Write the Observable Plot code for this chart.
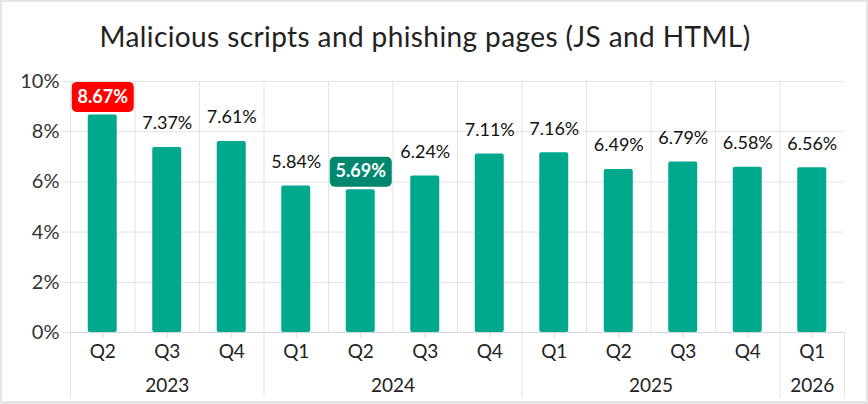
<!DOCTYPE html>
<html><head><meta charset="utf-8">
<script src="https://cdn.jsdelivr.net/npm/d3@7"></script>
<script src="https://cdn.jsdelivr.net/npm/@observablehq/plot@0.6"></script>
<style>
body{margin:0;background:#fff;}
#wrap{position:relative;width:868px;height:404px;overflow:hidden;font-family:Lato,sans-serif;background:#fff;}
#title{position:absolute;top:20px;left:0;width:850px;text-align:center;font-size:28px;letter-spacing:0.4px;line-height:32px;color:#222;}
#chart{position:absolute;left:0;top:0;}
#border{position:absolute;left:0;top:0;width:868px;height:404px;box-sizing:border-box;border:2px solid #e6e6e6;border-bottom-width:3px;pointer-events:none;}
</style></head>
<body>
<div id="wrap"><div id="chart"></div><div id="title">Malicious scripts and phishing pages (JS and HTML)</div><div id="border"></div></div>
<script>
const quarters = ["Q2","Q3","Q4","Q1","Q2","Q3","Q4","Q1","Q2","Q3","Q4","Q1"];
const years = ["2023","2023","2023","2024","2024","2024","2024","2025","2025","2025","2025","2026"];
const values = [8.67,7.37,7.61,5.84,5.69,6.24,7.11,7.16,6.49,6.79,6.58,6.56];
const yTicks = [0,2,4,6,8,10];

const data = values.map((v,i)=>({i, v, q: quarters[i], year: years[i], label: v.toFixed(2)+"%"}));
const maxV = d3.max(values), minV = d3.min(values);
const plain = data.filter(d=>d.v!==maxV && d.v!==minV);
const hl = data.filter(d=>d.v===maxV || d.v===minV).map(d=>({...d, color: d.v===maxV ? "#FF0000" : "#00886F"}));

const yearGroups = Array.from(d3.group(data, d=>d.year), ([year, ds])=>({year, c: d3.mean(ds, d=>d.i), first: d3.min(ds,d=>d.i), last: d3.max(ds,d=>d.i)}));
const yearBounds = [yearGroups[0].first-0.5, ...yearGroups.map(g=>g.last+0.5)];
const innerBounds = d3.range(0, values.length-1).map(i=>i+0.5);

const badge = {draw(ctx){ const w=31,h=15,r=5;
  ctx.moveTo(-w+r,-h); ctx.lineTo(w-r,-h); ctx.arcTo(w,-h,w,-h+r,r);
  ctx.lineTo(w,h-r); ctx.arcTo(w,h,w-r,h,r); ctx.lineTo(-w+r,h);
  ctx.arcTo(-w,h,-w,h-r,r); ctx.lineTo(-w,-h+r); ctx.arcTo(-w,-h,-w+r,-h,r); ctx.closePath(); }};

const grid = "#e3e3e3";
const chart = Plot.plot({
  width: 868, height: 404,
  marginLeft: 70, marginRight: 24, marginTop: 81, marginBottom: 72,
  style: {fontFamily: "Lato, sans-serif", background: "transparent", color: "#222"},
  x: {type: "linear", domain: [-0.5, values.length-0.5], axis: null},
  y: {domain: [0, 10], axis: null},
  marks: [
    Plot.gridY(yTicks.slice(1), {stroke: grid, strokeOpacity: 1}),
    Plot.ruleX([yearBounds[0], ...innerBounds], {stroke: grid, strokeOpacity: 1}),
    Plot.ruleX(yearBounds, {y1: 0, y2: 0, insetBottom: -66, stroke: grid, strokeOpacity: 1}),
    Plot.ruleY([0], {stroke: "#d6d6d6"}),
    Plot.axisY({ticks: yTicks, tickFormat: d=>d+"%", tickSize: 8, tickPadding: 3, fontSize: 20, stroke: grid, fill: "#333", label: null}),
    Plot.axisX({ticks: d3.range(values.length), tickFormat: i=>quarters[i], tickSize: 6, tickPadding: 6, fontSize: 19, stroke: "#d6d6d6", fill: "#222", label: null}),
    Plot.rectY(data, {x1: d=>d.i-0.5, x2: d=>d.i+0.5, y: "v", insetLeft: 17.75, insetRight: 17.75, fill: "#00A88E", rx: 2}),
    Plot.text(plain, {x: "i", y: "v", text: "label", dy: -24, fontSize: 18, fill: "#111"}),
    Plot.dot(hl, {x: "i", y: "v", dy: -18, symbol: badge, fill: "color", stroke: null}),
    Plot.text(hl, {x: "i", y: "v", text: "label", dy: -18, fontSize: 18, fontWeight: "bold", fill: "#fff"}),
    Plot.text(yearGroups, {x: "c", text: "year", frameAnchor: "bottom", dy: 59, fontSize: 19, fill: "#222"})
  ]
});
document.getElementById("chart").appendChild(chart);
</script>
</body></html>
